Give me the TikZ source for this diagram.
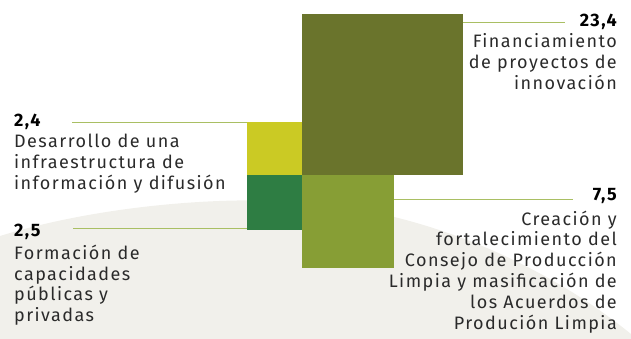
\documentclass[tikz,border=0pt]{standalone}
\usepackage{fontspec}
\setmainfont{Fira Sans}[LetterSpace=8]
\usetikzlibrary{positioning,calc}
\definecolor{olivo}{HTML}{6A742C}
\definecolor{limon}{HTML}{CBCA24}
\definecolor{bosque}{HTML}{2E7D43}
\definecolor{pasto}{HTML}{879E35}
\definecolor{lineaverde}{HTML}{A9BF63}
\definecolor{fondo}{HTML}{F1F0EB}
\definecolor{gristexto}{HTML}{2A2A2A}
\tikzset{cuadro/.style={inner sep=0pt,outer sep=0pt,anchor=north west},
  guia/.style={draw=lineaverde,line width=0.9pt},
  cifra/.style={font=\bfseries\fontsize{18}{20.8}\selectfont,inner sep=0pt,text=black},
  rotulo/.style={font=\fontsize{18}{20.8}\selectfont,inner sep=0pt,text=gristexto}}
\begin{document}
\begin{tikzpicture}[x=1pt,y=-1pt]
\useasboundingbox (0,0) rectangle (631,339);
\fill[fondo](0,339)--(0,236)..controls(100,205)and(230,195)..(310,203)
  ..controls(420,212)and(540,260)..(631,334)--(631,339)--cycle;
% cuadros
\node[cuadro,fill=olivo,minimum width=161pt,minimum height=161pt](financ)at(302,14){};
\node[cuadro,fill=limon,minimum width=55pt,minimum height=53pt](desarr)at(247,122){};
\node[cuadro,fill=bosque,minimum width=55pt,minimum height=55pt](formac)at(247,175){};
\node[cuadro,fill=pasto,minimum width=92pt,minimum height=93pt](creac)at(302,175){};
% lineas guia
\coordinate(f1)at(565,22);
\coordinate(d1)at(72,122);
\coordinate(c1)at(73,228);
\coordinate(p1)at(573,199);
\draw[guia](financ.east|-f1)--(f1);
\draw[guia](d1)--(desarr.north west);
\draw[guia](c1)--(c1-|formac.west);
\draw[guia](creac.east|-p1)--(p1);
% cifras
\node[cifra,anchor=base east](n234)at(617,27){23,4};
\node[cifra,anchor=base west](n24)at(14,127){2,4};
\node[cifra,anchor=base west](n25)at(14,236){2,5};
\node[cifra,anchor=base east](n75)at(617,200){7,5};
% textos (base = ultima linea)
\node[rotulo,align=right,anchor=base east](t234)at(617,89.3){Financiamiento\\de proyectos de\\innovación};
\node[rotulo,align=left,anchor=base west](t24)at(14,189.3){Desarrollo de una\\infraestructura de\\información y difusión};
\node[rotulo,align=left,anchor=base west](t25)at(14,321.7){Formación de\\capacidades\\públicas y\\privadas};
\node[rotulo,align=right,anchor=base east](t75)at(617,329){Creación y\\fortalecimiento del\\Consejo de Producción\\Limpia y masificación de\\los Acuerdos de\\Produción Limpia};
\end{tikzpicture}
\end{document}
